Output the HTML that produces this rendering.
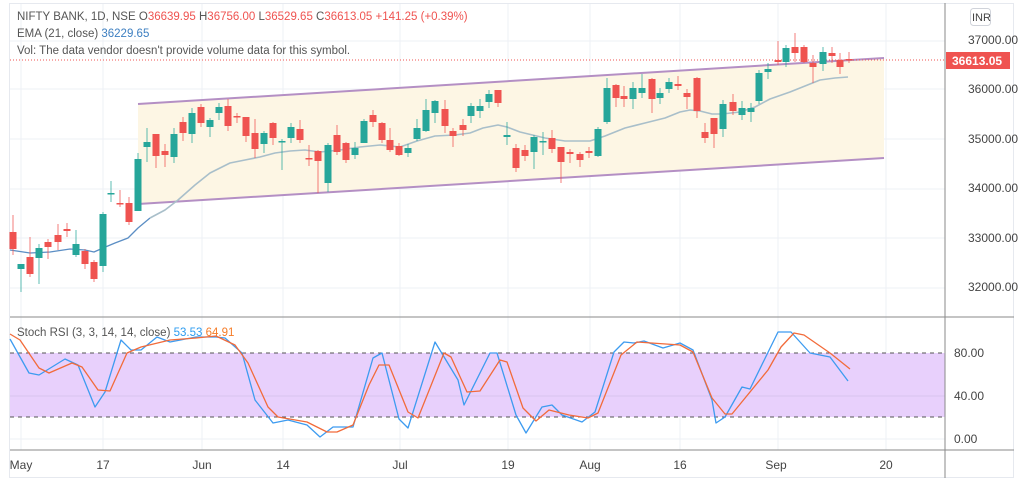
<!DOCTYPE html>
<html><head><meta charset="utf-8"><style>
html,body{margin:0;padding:0;background:#fff;width:1024px;height:482px;overflow:hidden}
svg{display:block;font-family:"Liberation Sans",sans-serif}
</style></head><body>
<svg id="s" width="1024" height="482" xmlns="http://www.w3.org/2000/svg">
<rect x="0" y="0" width="1024" height="482" fill="#fff"/>
<rect x="9.5" y="3.5" width="1004" height="474" fill="#fff" stroke="#e6e9ef"/>
<g id="grid" stroke="#eef1f5" stroke-width="1"></g>
<polygon points="138,104 884,58 884,158 138,204" fill="#fdf6e4"/>
<line x1="138" y1="104" x2="884" y2="58" stroke="#b48fc4" stroke-width="2"/>
<line x1="138" y1="204" x2="884" y2="158" stroke="#b48fc4" stroke-width="2"/>
<line x1="10" y1="60" x2="945" y2="60" stroke="#ef5350" stroke-width="1" stroke-dasharray="1,2"/>
<g id="ema"></g>
<g id="candles"></g>
<!-- stoch -->
<rect x="10" y="353" width="935" height="64" fill="#e8d0fc"/>
<line x1="10" y1="396" x2="945" y2="396" stroke="#d8c4ee"/>
<line x1="10" y1="439" x2="945" y2="439" stroke="#eef1f5"/>
<line x1="10" y1="353" x2="945" y2="353" stroke="#555" stroke-dasharray="4,4"/>
<line x1="10" y1="417" x2="945" y2="417" stroke="#555" stroke-dasharray="4,4"/>
<g id="stoch"></g>
<line x1="10" y1="317" x2="1014" y2="317" stroke="#8a8a8a"/>
<line x1="10" y1="450" x2="1014" y2="450" stroke="#8a8a8a"/>
<line x1="945" y1="3" x2="945" y2="478" stroke="#8a8a8a"/>
<g font-size="12" fill="#444">
<text x="968" y="44">37000.00</text>
<text x="968" y="93">36000.00</text>
<text x="968" y="143">35000.00</text>
<text x="968" y="192">34000.00</text>
<text x="968" y="242">33000.00</text>
<text x="968" y="291">32000.00</text>
<text x="954" y="357">80.00</text>
<text x="954" y="400">40.00</text>
<text x="954" y="443">0.00</text>
</g>
<rect x="970.5" y="8.5" width="20" height="17" rx="3" fill="#fff" stroke="#d0d3da"/>
<text x="972" y="21" font-size="11" fill="#444">INR</text>
<rect x="946" y="52" width="64" height="17" fill="#ef5350"/>
<text x="952" y="65" font-size="12" fill="#fff" font-weight="bold">36613.05</text>
<g font-size="12" fill="#444" text-anchor="middle">
<text x="21" y="469">May</text><text x="103" y="469">17</text><text x="202" y="469">Jun</text>
<text x="283" y="469">14</text><text x="400" y="469">Jul</text><text x="508" y="469">19</text>
<text x="590" y="469">Aug</text><text x="680" y="469">16</text><text x="776" y="469">Sep</text>
<text x="886" y="469">20</text>
</g>
<g font-size="11.5" fill="#555">
<text x="17" y="20">NIFTY BANK, 1D, NSE <tspan fill="#555">O</tspan><tspan fill="#ef5350">36639.95</tspan> <tspan>H</tspan><tspan fill="#ef5350">36756.00</tspan> <tspan>L</tspan><tspan fill="#ef5350">36529.65</tspan> <tspan>C</tspan><tspan fill="#ef5350">36613.05</tspan> <tspan fill="#ef5350">+141.25 (+0.39%)</tspan></text>
<text x="17" y="37">EMA (21, close) <tspan fill="#3d7fc1">36229.65</tspan></text>
<text x="17" y="54">Vol: The data vendor doesn't provide volume data for this symbol.</text>
<text x="17" y="336">Stoch RSI (3, 3, 14, 14, close) <tspan fill="#2d9cf0">53.53</tspan> <tspan fill="#f57c28">64.91</tspan></text>
</g>
</svg>
<script>
var NS="http://www.w3.org/2000/svg";
function el(p,t,a){var e=document.createElementNS(NS,t);for(var k in a)e.setAttribute(k,a[k]);p.appendChild(e);return e;}
var g=document.getElementById('grid');
[41,89,139,189,238,288].forEach(function(y){el(g,'line',{x1:10,y1:y,x2:945,y2:y});});
[21,103,202,283,400,508,590,680,778,886].forEach(function(x){el(g,'line',{x1:x,y1:4,x2:x,y2:450});});
// x, open(y), close(y), high, low, color
var C=[
[13,232,249,215,255,'r'],[21,269,264,264,292,'g'],[30,257,274,237,277,'r'],[39,258,248,244,284,'g'],[48,242,247,239,259,'r'],
[58,235,242,224,250,'r'],[67,229,231,223,237,'r'],[76,255,244,230,257,'g'],[85,251,264,249,269,'r'],[94,262,279,260,282,'r'],
[103,266,214,212,272,'g'],[111,194,193,181,202,'g'],[120,203,204,190,207,'r'],[129,203,222,197,225,'r'],[138,211,159,153,211,'g'],
[147,147,142,128,162,'g'],[156,134,156,134,168,'r'],[165,151,155,144,167,'r'],[174,157,134,128,163,'g'],[183,122,133,117,141,'r'],
[192,134,113,108,143,'g'],[201,107,123,104,127,'r'],[210,127,120,118,137,'g'],[219,113,107,103,120,'g'],[228,106,126,99,131,'r'],
[237,116,117,113,123,'r'],[246,117,136,117,142,'r'],[255,133,149,119,158,'r'],[264,144,133,131,153,'g'],[273,123,138,122,145,'r'],
[282,142,141,139,170,'g'],[291,138,127,123,143,'g'],[300,129,140,120,143,'r'],[309,158,159,145,166,'r'],[318,151,161,150,193,'r'],
[328,183,145,143,192,'g'],[337,135,152,125,155,'r'],[346,143,160,142,163,'r'],[355,155,148,142,159,'g'],[364,143,121,119,143,'g'],
[373,115,122,110,127,'r'],[382,123,140,122,143,'r'],[390,140,150,128,152,'r'],[399,146,155,143,156,'r'],[408,153,148,144,157,'g'],
[417,139,128,119,141,'g'],[426,131,110,99,132,'g'],[435,113,101,100,123,'g'],[445,109,126,100,133,'r'],[453,131,136,128,147,'r'],
[463,125,130,119,136,'r'],[471,116,106,103,123,'g'],[480,111,106,99,118,'g'],[489,102,94,90,108,'g'],[498,90,103,90,107,'r'],
[507,137,135,122,145,'g'],[516,148,168,144,172,'r'],[525,150,156,145,161,'r'],[534,152,137,135,169,'g'],[543,142,141,132,155,'g'],
[552,138,149,130,153,'r'],[561,147,162,147,183,'r'],[570,152,154,149,163,'r'],[580,154,160,152,167,'r'],[589,151,153,147,158,'r'],
[598,156,129,127,157,'g'],[607,122,88,78,124,'g'],[616,85,98,84,107,'r'],[624,96,99,86,107,'r'],[633,99,88,82,109,'g'],
[642,93,88,74,98,'g'],[652,79,99,78,113,'r'],[660,98,93,88,104,'g'],[669,89,82,78,93,'g'],[678,84,86,76,90,'r'],
[687,93,97,89,109,'r'],[697,78,111,77,118,'r'],[705,132,138,123,143,'r'],[714,118,134,118,148,'r'],[723,129,104,100,137,'g'],
[733,102,111,94,115,'r'],[742,115,108,101,120,'g'],[751,112,108,103,122,'g'],[759,101,73,70,104,'g'],[768,72,69,63,79,'g'],
[778,60,62,41,65,'r'],[786,62,48,45,67,'g'],[795,47,53,33,62,'r'],[804,47,62,45,63,'r'],[813,63,67,55,83,'r'],
[823,64,52,47,71,'g'],[832,53,56,47,63,'r'],[840,60,67,53,74,'r'],[849,59,60,52,63,'r']];
var cg=document.getElementById('candles');
C.forEach(function(c){var col=c[5]=='g'?'#26a69a':'#ef5350';
el(cg,'line',{x1:c[0],y1:c[3],x2:c[0],y2:c[4],stroke:col,'stroke-width':1,opacity:0.75});
var t=Math.min(c[1],c[2]),h=Math.max(1.5,Math.abs(c[2]-c[1]));
el(cg,'rect',{x:c[0]-3.5,y:t,width:7,height:h,fill:col});});
var ema=[[10,250],[30,253],[50,252],[70,249],[85,250],[94,252],[103,248],[115,243],[128,238],[138,228],[150,218],[165,210],[178,200],[195,185],[210,173],[230,163],[245,160],[260,157],[275,153],[290,151],[305,150],[320,152],[340,150],[360,147],[380,145],[400,147],[417,141],[435,136],[455,135],[470,133],[483,128],[498,125],[507,127],[520,132],[545,138],[565,141],[590,141],[605,136],[625,128],[645,123],[665,118],[680,112],[690,110],[700,111],[712,114],[722,114],[740,112],[755,107],[770,99],[790,92],[805,86],[820,80],[835,78],[848,77]];
function pl(p,pts,col,w){el(p,'polyline',{points:pts.map(function(a){return a.join(',')}).join(' '),fill:'none',stroke:col,'stroke-width':w,'stroke-linejoin':'round'});}
pl(document.getElementById('ema'),ema.slice(0,11),'#5b8ec4',1.3);
pl(document.getElementById('ema'),ema.slice(10),'#a9bfca',1.6);
var blue=[[10,339],[29,373],[39,375],[65,359],[78,365],[95,407],[105,392],[121,340],[131,350],[141,350],[157,337],[170,342],[196,337],[216,337],[225,338],[242,353],[255,400],[273,423],[288,420],[307,425],[320,437],[333,427],[353,427],[373,358],[382,353],[399,419],[408,428],[435,342],[458,380],[464,405],[490,353],[497,353],[516,415],[526,433],[542,407],[552,405],[562,415],[582,422],[595,412],[614,352],[624,342],[634,343],[644,341],[663,348],[680,343],[693,350],[712,400],[716,423],[725,417],[742,387],[750,389],[778,332],[791,332],[810,353],[830,357],[848,381]];
var orng=[[10,334],[20,340],[39,368],[49,373],[72,363],[82,367],[98,390],[110,391],[127,353],[141,347],[170,340],[196,338],[216,336],[235,345],[248,363],[268,407],[278,417],[307,422],[327,432],[337,432],[353,425],[369,385],[379,365],[389,365],[408,412],[418,418],[444,353],[451,357],[467,392],[480,391],[500,360],[507,362],[523,408],[536,421],[549,410],[569,415],[588,418],[598,413],[621,355],[637,342],[680,345],[693,352],[712,398],[725,414],[732,414],[768,370],[781,347],[794,333],[804,335],[830,353],[850,369]];
var sg=document.getElementById('stoch');
pl(sg,blue,'#3d9bf0',1.3);pl(sg,orng,'#f26b3a',1.3);
</script>
</body></html>
